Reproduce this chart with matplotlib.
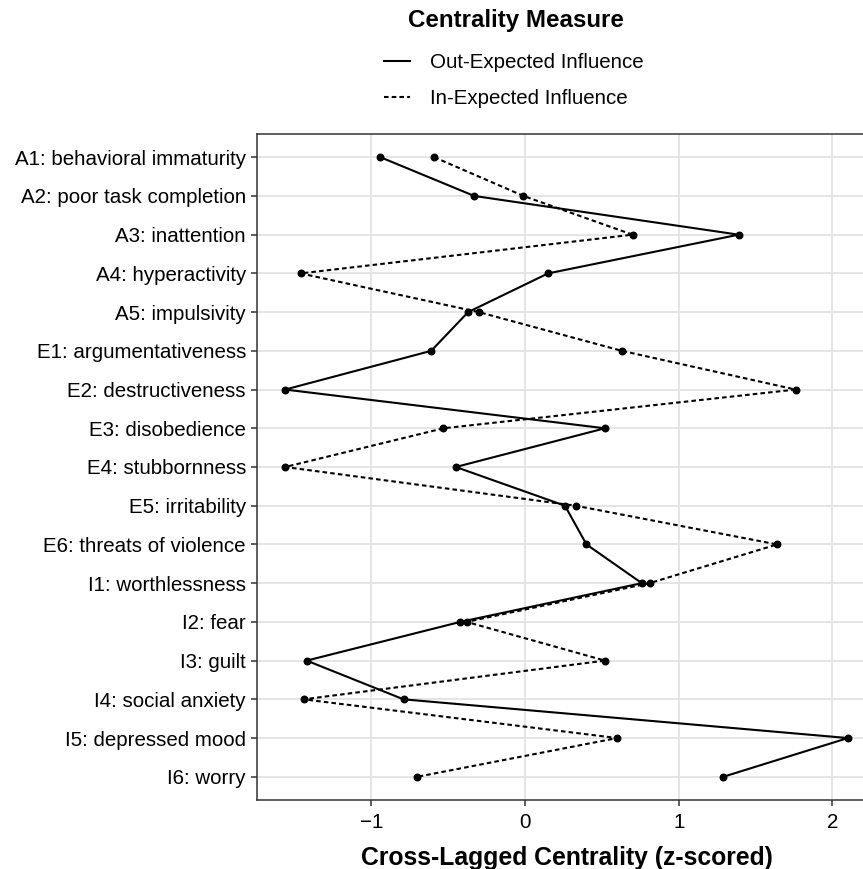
import numpy as np
import matplotlib
matplotlib.use("Agg")
from matplotlib import pyplot as plt
from matplotlib.lines import Line2D

plt.rcParams['font.family'] = ['Liberation Sans', 'DejaVu Sans']

# symptom labels, top to bottom
symptoms = ["A1: behavioral immaturity", "A2: poor task completion", "A3: inattention",
            "A4: hyperactivity", "A5: impulsivity", "E1: argumentativeness",
            "E2: destructiveness", "E3: disobedience", "E4: stubbornness",
            "E5: irritability", "E6: threats of violence", "I1: worthlessness",
            "I2: fear", "I3: guilt", "I4: social anxiety", "I5: depressed mood",
            "I6: worry"]

# z-scored centrality values
out_ei = [-0.94, -0.33, 1.39, 0.15, -0.37, -0.61, -1.56, 0.52, -0.45, 0.26,
          0.40, 0.76, -0.42, -1.42, -0.79, 2.10, 1.29]
in_ei = [-0.59, -0.01, 0.70, -1.46, -0.30, 0.63, 1.76, -0.53, -1.56, 0.33,
         1.64, 0.81, -0.38, 0.52, -1.44, 0.60, -0.70]

xticks = [-1, 0, 1, 2]

fig = plt.figure(figsize=(8.63, 8.69), dpi=100)
ax = fig.add_axes([257 / 863, 1 - 800 / 869, (876 - 257) / 863, (800 - 134) / 869])

dash = (0, (2.2, 1.5))
ypos = np.arange(len(symptoms))
ax.plot(out_ei, ypos, color="black", lw=1.5, marker="o", ms=4.7, zorder=3)
ax.plot(in_ei, ypos, color="black", lw=1.5, ls=dash, marker="o", ms=4.7, zorder=3)

# ggplot-like 5% expansion
lo = min(min(out_ei), min(in_ei))
hi = max(max(out_ei), max(in_ei))
pad = 0.05 * (hi - lo)
ax.set_xlim(lo - pad, hi + pad)
ax.set_ylim(len(symptoms) - 0.4, -0.6)

ax.set_yticks(ypos)
ax.set_yticklabels(symptoms)
ax.set_xticks(xticks)
ax.grid(True, color="#e3e3e3", lw=1.3)
ax.set_axisbelow(True)
for s in ax.spines.values():
    s.set_color("#333333")
    s.set_linewidth(1.1)
ax.tick_params(axis="both", colors="#333333", length=4, width=1.1, labelsize=14.8,
               labelcolor="black")
ax.tick_params(axis="x", pad=5.5)
ax.tick_params(axis="y", pad=4)

ax.set_xlabel("Cross-Lagged Centrality (z-scored)", fontsize=17.8, fontweight="bold", labelpad=10)

# legend on top
fig.text(516 / 863, 1 - 20 / 869, "Centrality Measure", ha="center", va="center",
         fontsize=17.4, fontweight="bold")
handles = [Line2D([], [], color="black", lw=1.5),
           Line2D([], [], color="black", lw=1.5, ls=dash)]
fig.legend(handles, ["Out-Expected Influence", "In-Expected Influence"],
           loc="upper left", bbox_to_anchor=(384 / 863, 1 - 53 / 869), frameon=False,
           fontsize=14.8, borderpad=0, borderaxespad=0,
           handlelength=1.25, handletextpad=1.0, labelspacing=0.84)

fig.savefig("out.png", dpi=100)
